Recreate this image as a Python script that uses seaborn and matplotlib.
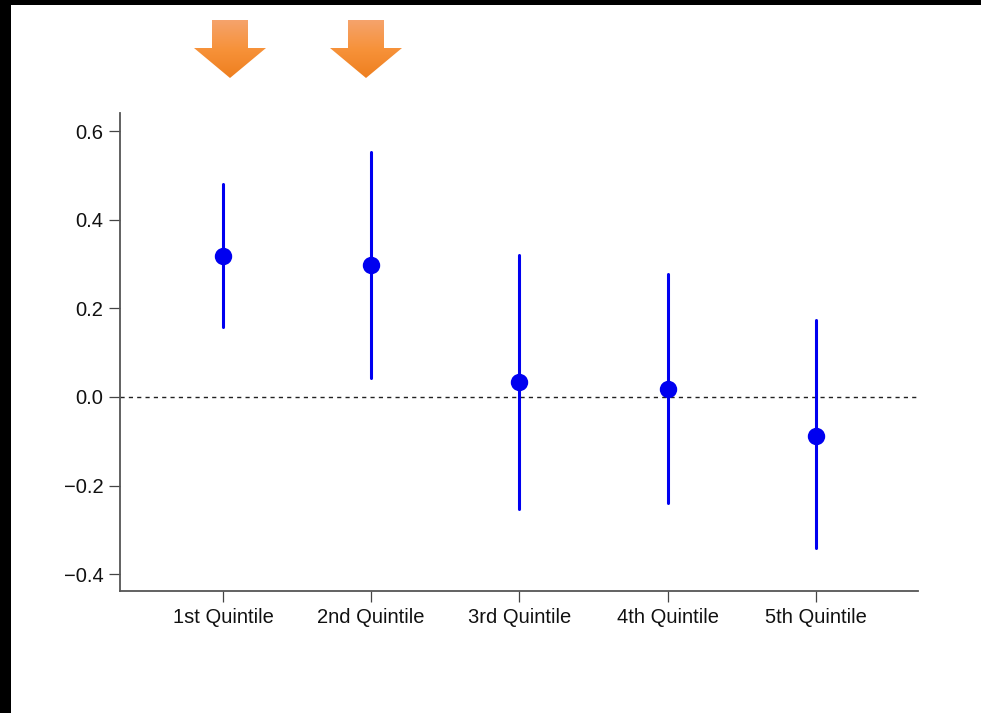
import numpy as np
import pandas as pd
import matplotlib
matplotlib.use("Agg")
import matplotlib.pyplot as plt
from matplotlib.patches import Polygon, Rectangle
import seaborn as sns

# Estimates with lower / upper bounds of the interval, by quintile
quintiles = ["1st Quintile", "2nd Quintile", "3rd Quintile", "4th Quintile", "5th Quintile"]
estimate = [0.318, 0.298, 0.034, 0.018, -0.087]
lower = [0.158, 0.042, -0.252, -0.240, -0.342]
upper = [0.480, 0.553, 0.320, 0.277, 0.173]
y_ticks = [-0.4, -0.2, 0.0, 0.2, 0.4, 0.6]

# Long form: median of (lower, estimate, upper) is the estimate, full range is the interval
df = pd.DataFrame({
    "quintile": np.repeat(quintiles, 3),
    "value": np.ravel(np.column_stack([lower, estimate, upper])),
})

sns.set_theme(style="ticks")
plt.rcParams["font.family"] = ["Liberation Sans", "DejaVu Sans"]

W, H = 981, 713
fig = plt.figure(figsize=(W / 100, H / 100), dpi=100)
fig.patch.set_facecolor("white")

ax = fig.add_axes([120 / W, (H - 591) / H, (918 - 120) / W, (591 - 113) / H])
ax.set_facecolor("white")

sns.pointplot(
    data=df, x="quintile", y="value", order=quintiles,
    estimator="median", errorbar=("pi", 100),
    color="#0000f0", linestyle="none", markers="o", markersize=10.5,
    err_kws={"linewidth": 2.2}, ax=ax,
)

ax.axhline(0, color="#222222", linestyle=(0, (3, 3)), linewidth=1.0, zorder=0)

ax.set_xlim(-0.695, 4.69)
ax.set_ylim(-0.438, 0.641)
ax.set_yticks(y_ticks)
ax.set_yticklabels([f"{t:.1f}".replace("-", "\u2212") for t in y_ticks])
ax.set_xlabel("")
ax.set_ylabel("")

for side in ["top", "right"]:
    ax.spines[side].set_visible(False)
for side in ["left", "bottom"]:
    ax.spines[side].set_color("#555555")
    ax.spines[side].set_linewidth(1.3)
ax.tick_params(axis="both", colors="#444444", labelcolor="#111111",
               labelsize=14.5, length=8, width=0.9)
ax.tick_params(axis="y", pad=4)
ax.tick_params(axis="x", pad=4.5)

# Overlay in pixel coordinates for the frame and the marker arrows
ov = fig.add_axes([0, 0, 1, 1], zorder=5)
ov.axis("off")
ov.patch.set_alpha(0)

ov.add_patch(Rectangle((0, 0), W, 5, color="black", lw=0))
ov.add_patch(Rectangle((0, 0), 11, H, color="black", lw=0))

arrow_cmap = matplotlib.colors.LinearSegmentedColormap.from_list(
    "arrow", ["#f5a36c", "#f7923a", "#ee7f1f"])
grad = np.linspace(0, 1, 256).reshape(-1, 1)

# Down arrows above the first two quintiles (centres in pixels)
for cx in (230, 366):
    pts = [(cx - 18, 20), (cx + 18, 20), (cx + 18, 48), (cx + 36, 48),
           (cx, 78), (cx - 36, 48), (cx - 18, 48)]
    poly = Polygon(pts, closed=True, facecolor="none", edgecolor="none")
    ov.add_patch(poly)
    im = ov.imshow(grad, cmap=arrow_cmap, aspect="auto",
                   extent=(cx - 37, cx + 37, 78, 20), interpolation="bilinear")
    im.set_clip_path(poly)

ov.set_xlim(0, W)
ov.set_ylim(H, 0)

fig.savefig("out.png", dpi=100, facecolor="white")
